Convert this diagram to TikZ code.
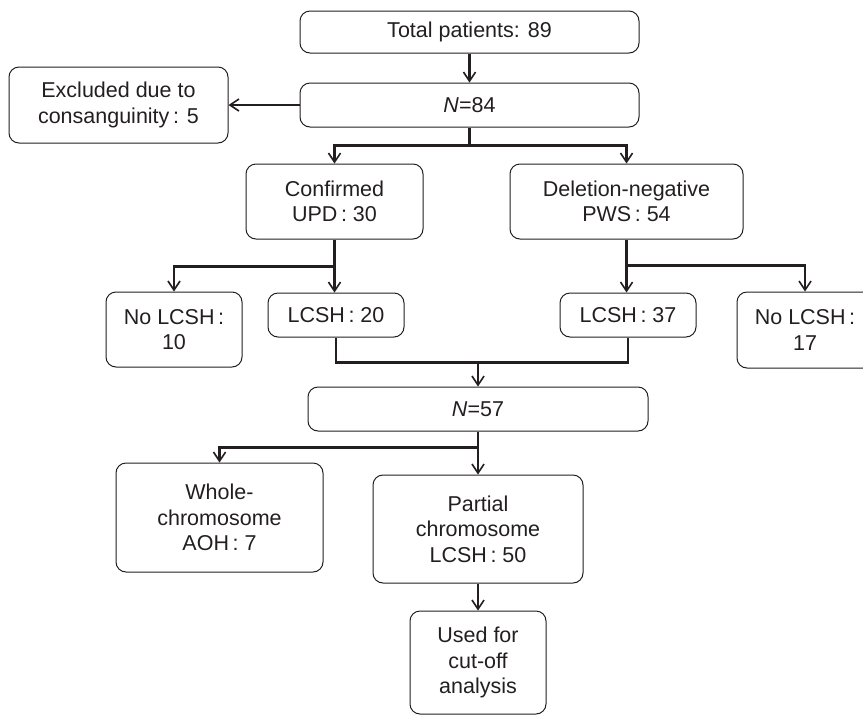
\documentclass[tikz,border=0pt]{standalone}
\usepackage{fontspec}
\setmainfont{Liberation Sans}
\usetikzlibrary{arrows.meta}
\definecolor{ink}{HTML}{231F20}
\begin{document}
\begin{tikzpicture}[x=1pt,y=-1pt,
  box/.style={draw=ink, line width=1pt, rounded corners=10pt, inner sep=0pt,
    align=center, text=ink, font=\fontsize{21.5}{25.5}\selectfont},
  link/.style={draw=ink, line width=2.1pt},
  arr/.style={link, -{Straight Barb[length=9pt,width=12pt,line width=1.6pt]}}
]
\useasboundingbox (0,0) rectangle (863,716);
\clip (0,0) rectangle (863,716);

\node[box, minimum width=339pt, minimum height=42pt] (total) at (469.5,32) {Total patients: 89};
\node[box, minimum width=339pt, minimum height=44pt] (n84) at (469.5,105) {\textit{N}=84};
\node[box, minimum width=219pt, minimum height=76pt] (excl) at (118.5,105) {Excluded due to\\consanguinity\,: 5};
\node[box, minimum width=177pt, minimum height=75pt] (conf) at (334.5,201.5) {Confirmed\\UPD\,: 30};
\node[box, minimum width=233pt, minimum height=75pt] (deln) at (626.5,201.5) {Deletion-negative\\PWS\,: 54};
\node[box, minimum width=136pt, minimum height=75pt] (nol10) at (174,329.5) {No LCSH\,:\\10};
\node[box, minimum width=136pt, minimum height=44pt] (l20) at (336,315) {LCSH\,: 20};
\node[box, minimum width=136pt, minimum height=44pt] (l37) at (628,315) {LCSH\,: 37};
\node[box, minimum width=136pt, minimum height=76pt] (nol17) at (805,330) {No LCSH\,:\\17};
\node[box, minimum width=340pt, minimum height=44pt] (n57) at (478,409) {\textit{N}=57};
\node[box, minimum width=207pt, minimum height=109pt] (whole) at (219.5,517.5) {Whole-\\chromosome\\AOH\,: 7};
\node[box, minimum width=210pt, minimum height=108pt] (partial) at (478,529) {Partial\\chromosome\\LCSH\,: 50};
\node[box, minimum width=136pt, minimum height=103pt] (used) at (478,662.5) {Used for\\cut-off\\analysis};

% connectors
\draw[arr] (total) -- (n84);
\draw[arr] (n84.west) -- (excl.east);

\coordinate (b1) at ([yshift=-18pt]n84.south);
\draw[link] (n84.south) -- (b1);
\draw[arr] (b1) -| (conf.north);
\draw[arr] (b1) -| (deln.north);

\coordinate (b2) at ([yshift=-27pt]conf.south);
\draw[link] (conf.south) -- (b2);
\draw[arr] (b2) -| (nol10.north);
\draw[arr] (b2) -- (b2 |- l20.north);

\coordinate (b3) at ([yshift=-26pt]deln.south);
\draw[link] (deln.south) -- (b3);
\draw[arr] (b3) -- (b3 |- l37.north);
\draw[arr] (b3) -| (nol17.north);

\coordinate (m1) at ([yshift=-25pt]l20.south);
\coordinate (m2) at ([yshift=-25pt]l37.south);
\coordinate (m3) at (m1 -| n57.north);
\draw[link] (l20.south) -- (m1) -- (m2) -- (l37.south);
\draw[arr] (m3) -- (n57.north);

\coordinate (b4) at ([yshift=-16pt]n57.south);
\draw[link] (n57.south) -- (b4);
\draw[arr] (b4) -| (whole.north);
\draw[arr] (b4) -- (partial.north);

\draw[arr] (partial) -- (used);
\end{tikzpicture}
\end{document}
